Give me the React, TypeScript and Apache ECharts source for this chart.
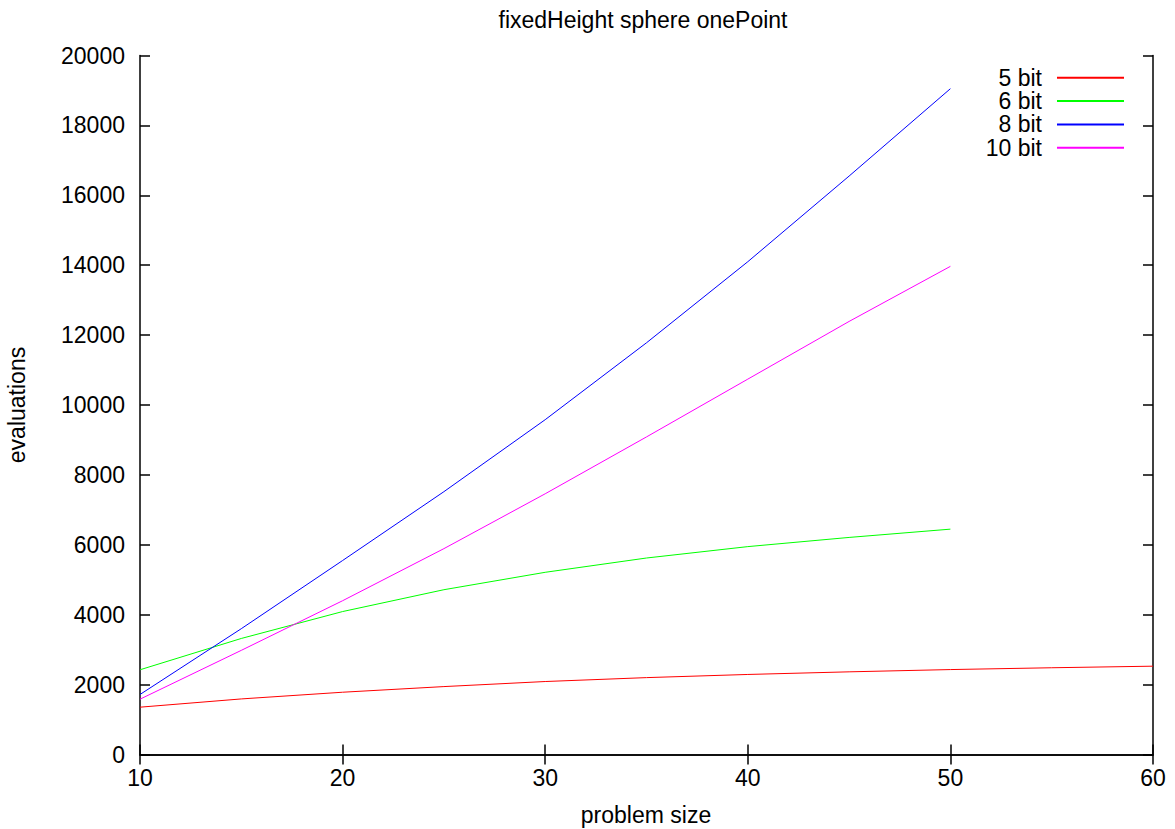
import React, { useEffect, useRef } from "react";
import * as echarts from "echarts";

const titleText = "fixedHeight sphere onePoint";
const xAxisName = "problem size";
const yAxisName = "evaluations";

const seriesNames = ["5 bit", "6 bit", "8 bit", "10 bit"];
const seriesColors = ["#ff0000", "#00ff00", "#0000ff", "#ff00ff"];

const sizesLong = [10, 15, 20, 25, 30, 35, 40, 45, 50, 55, 60];
const sizesShort = [10, 15, 20, 25, 30, 35, 40, 45, 50];

const bit5 = [1354, 1590, 1782, 1943, 2088, 2200, 2290, 2365, 2430, 2482, 2527];
const bit6 = [2424, 3320, 4090, 4715, 5213, 5622, 5948, 6211, 6448];
const bit8 = [1717, 3600, 5550, 7520, 9580, 11780, 14100, 16550, 19050];
const bit10 = [1583, 2980, 4400, 5890, 7460, 9087, 10740, 12391, 13967];

const font = "'Liberation Sans', Arial, Helvetica, sans-serif";

export default function App() {
  const ref = useRef<HTMLDivElement>(null);
  useEffect(() => {
    if (!ref.current) return;
    const chart = echarts.init(ref.current, undefined, { renderer: "svg" });
    const pair = (xs: number[], ys: number[]) => ys.map((v, i) => [xs[i], v]);
    const datasets = [
      pair(sizesLong, bit5),
      pair(sizesShort, bit6),
      pair(sizesShort, bit8),
      pair(sizesShort, bit10),
    ];
    const axisLine = { show: true, lineStyle: { color: "#000", width: 1.5 } };
    const tick = { show: true, inside: true, length: 10, lineStyle: { color: "#000", width: 1.5 } };
    const labelStyle = { color: "#000", fontSize: 23, fontFamily: font, formatter: (v: number) => String(v) };
    chart.setOption({
      animation: false,
      backgroundColor: "#fff",
      grid: { left: 140, top: 55.5, width: 1013, height: 699, containLabel: false },
      xAxis: [
        {
          type: "value", min: 10, max: 60, interval: 10, position: "bottom",
          axisLine, axisTick: tick, splitLine: { show: false },
          axisLabel: { ...labelStyle, margin: 12 },
        },
        {
          type: "value", min: 10, max: 60, interval: 10, position: "top",
          axisLine, axisTick: tick, splitLine: { show: false },
          axisLabel: { show: false },
        },
      ],
      yAxis: [
        {
          type: "value", min: 0, max: 20000, interval: 2000, position: "left",
          axisLine, axisTick: tick, splitLine: { show: false },
          axisLabel: { ...labelStyle, margin: 15 },
        },
        {
          type: "value", min: 0, max: 20000, interval: 2000, position: "right",
          axisLine, axisTick: tick, splitLine: { show: false },
          axisLabel: { show: false },
        },
      ],
      legend: {
        data: seriesNames,
        orient: "vertical",
        right: 50,
        top: 66.3,
        align: "right",
        padding: 0,
        itemWidth: 67,
        itemHeight: 1,
        itemGap: 0.3,
        selectedMode: false,
        textStyle: { color: "#000", fontSize: 23, lineHeight: 23, fontFamily: font, padding: [0, 10, 0, 0] },
      },
      graphic: [
        {
          type: "text", x: 643, y: 20.2,
          style: { text: titleText, fill: "#000", font: `23px ${font}`, textAlign: "center", textVerticalAlign: "middle" },
        },
        {
          type: "text", x: 646, y: 814.7,
          style: { text: xAxisName, fill: "#000", font: `23px ${font}`, textAlign: "center", textVerticalAlign: "middle" },
        },
        {
          type: "text", x: 17, y: 405, rotation: Math.PI / 2,
          style: { text: yAxisName, fill: "#000", font: `23px ${font}`, textAlign: "center", textVerticalAlign: "middle" },
        },
      ],
      series: seriesNames.map((name, i) => ({
        name,
        type: "line",
        xAxisIndex: 0,
        yAxisIndex: 0,
        data: datasets[i],
        symbol: "none",
        showSymbol: false,
        smooth: false,
        clip: true,
        color: seriesColors[i],
        lineStyle: { color: seriesColors[i], width: 1 },
      })),
    });
    return () => chart.dispose();
  }, []);
  return (
    <div
      ref={ref}
      style={{ position: "fixed", left: 0, top: 0, width: 1175, height: 829, background: "#fff" }}
    />
  );
}
